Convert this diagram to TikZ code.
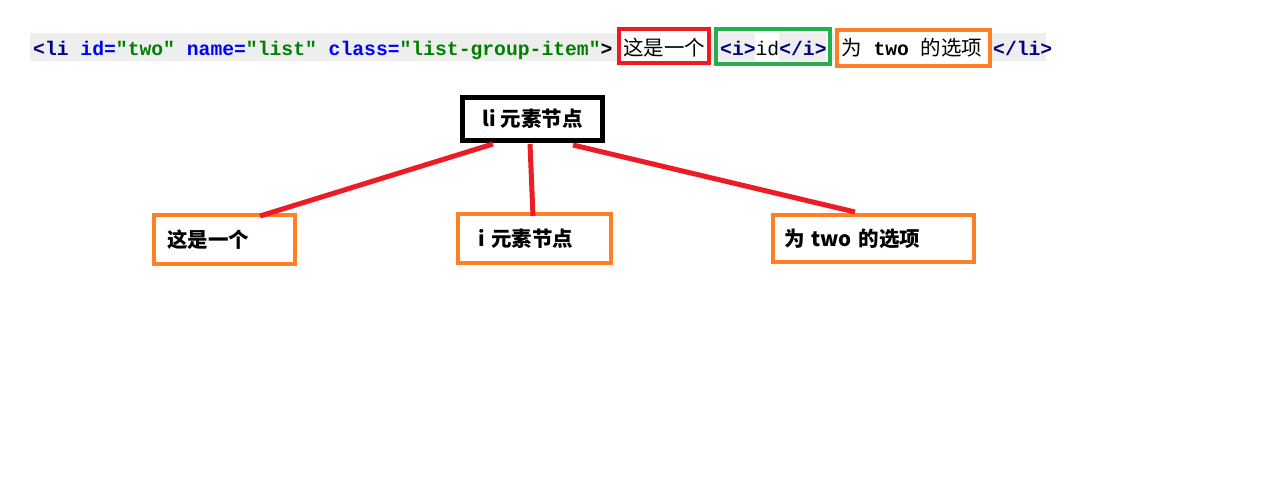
\documentclass[tikz,border=0pt]{standalone}
\usepackage{fontspec}
\setmonofont{Liberation Mono}
\newfontfamily\cjk{Noto Sans CJK SC}
\usetikzlibrary{calc}
\definecolor{pred}{HTML}{ED1C24}
\definecolor{porange}{HTML}{FF7F27}
\definecolor{pgreen}{HTML}{22B14C}
\definecolor{navy}{HTML}{000080}
\definecolor{attr}{HTML}{0000FF}
\definecolor{val}{HTML}{008000}
\definecolor{codebg}{HTML}{EEEEEE}
\tikzset{
  code/.style={inner sep=0pt, font=\ttfamily\bfseries\fontsize{19.7}{22}\selectfont},
  codebox/.style={draw=#1, line width=4pt, fill=white, inner sep=0pt},
  treebox/.style={draw=porange, line width=4pt, inner ysep=0pt, align=left,
    minimum height=#1, font=\cjk\bfseries\fontsize{20.5}{22}\selectfont},
  link/.style={draw=pred, line width=5pt}
}
\begin{document}
\begin{tikzpicture}[x=1pt,y=-1pt]
\useasboundingbox (0,0) rectangle (1271,479);
% code line background
\fill[codebg] (30,33) rectangle (1046,61);
\node[code, anchor=base west] (pre) at (33,55)
  {\textcolor{navy}{<li} \textcolor{attr}{id=}\textcolor{val}{"two"} \textcolor{attr}{name=}\textcolor{val}{"list"} \textcolor{attr}{class=}\textcolor{val}{"list-group-item"}>};
% boxed parts
\node[codebox=pred, minimum width=90, minimum height=34] (rb) at (664,46) {};
\node[code, anchor=base, font=\cjk\fontsize{20.5}{22}\selectfont] (rbt) at (664,55) {这是一个};
\node[codebox=pgreen, minimum width=114, minimum height=35] (gb) at (773,46.5) {};
\fill[codebg] (719,33) rectangle (755,61);
\fill[codebg] (779,33) rectangle (826,61);
\node[code, anchor=base west] (gbt) at (720,55) {\textcolor{navy}{<i>}{\mdseries id}\textcolor{navy}{</i>}};
\node[codebox=porange, minimum width=153, minimum height=36] (ob) at (913.5,48) {};
\node[code, anchor=base west] (obt) at (841,55) {{\cjk\mdseries\fontsize{20.5}{22}\selectfont 为} two {\cjk\mdseries\fontsize{20.5}{22}\selectfont 的选项}};
\node[code, anchor=base west] (post) at (993,55) {\textcolor{navy}{</li>}};
% tree
\node[draw=black, line width=5pt, minimum width=140, minimum height=43, inner sep=0pt,
  font=\cjk\bfseries\fontsize{20.5}{22}\selectfont] (li) at (532.5,119) {li 元素节点};
\node[treebox=49, text width=115, inner xsep=13] (a) at (224.5,239.5) {这是一个};
\node[treebox=49, text width=113, inner xsep=20] (b) at (534.5,238.5) {i 元素节点};
\node[treebox=47, text width=179, inner xsep=11] (c) at (873.5,238.5) {为 two 的选项};
\draw[link] ($(li.south west)+(33,1)$) -- ($(a.north west)+(108,3)$);
\draw[link] ($(li.south west)+(70,1)$) -- ($(b.north west)+(77,4)$);
\draw[link] ($(li.south west)+(113,2)$) -- ($(c.north west)+(84,-1)$);
\end{tikzpicture}
\end{document}
